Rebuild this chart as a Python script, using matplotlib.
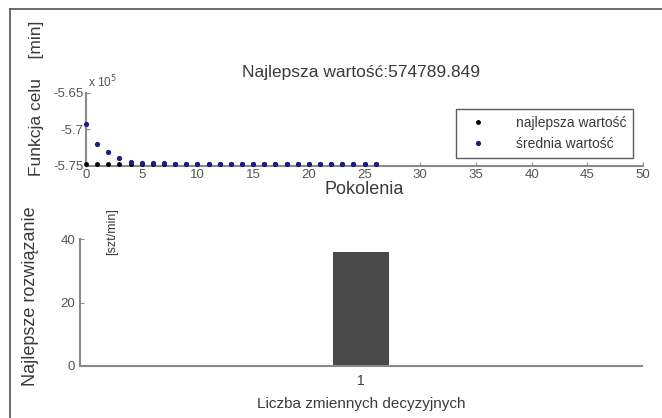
import matplotlib
matplotlib.use('Agg')
import matplotlib.pyplot as plt
from matplotlib.lines import Line2D
import numpy as np

plt.rcParams['font.family'] = ['Liberation Sans', 'DejaVu Sans']

# generation data (objective function values)
generations = list(range(27))
best_vals = [-574789.849] * 27
mean_vals = [-569250, -572000, -573100, -573900, -574450, -574650, -574650, -574650,
             -574780, -574785, -574785, -574785, -574785, -574785, -574785, -574760,
             -574785, -574785, -574785, -574770, -574785, -574785, -574785, -574785,
             -574780, -574785, -574780]

# best solution bar
bar_labels = ['1']
bar_values = [36]

txt = '#3a3a3a'
tick_txt = '#555555'
spine = '#8a8a8a'

fig = plt.figure(figsize=(6.62, 4.18), dpi=100)

# frame lines (top and left)
fig.add_artist(Line2D([10/662, 10/662], [0, 1 - 9/418], color='#555555', lw=1.2))
fig.add_artist(Line2D([10/662, 1], [1 - 9/418, 1 - 9/418], color='#555555', lw=1.2))

ax1 = fig.add_axes([86/662, 1 - 166/418, (643 - 86)/662, (166 - 93)/418])
ax1.plot(generations, np.array(best_vals) / 1e5, '.', color='black', ms=5,
         label='najlepsza wartość', clip_on=False, zorder=3)
ax1.plot(generations, np.array(mean_vals) / 1e5, '.', color='#1c1c8f', ms=5.5,
         label='średnia wartość', clip_on=False, zorder=4)
ax1.set_xlim(0, 50)
ax1.set_ylim(-5.75, -5.65)
ax1.set_xticks(range(0, 51, 5))
ax1.set_yticks([-5.75, -5.7, -5.65])
ax1.set_yticklabels(['-5.75', '-5.7', '-5.65'])
for s in ['top', 'right']:
    ax1.spines[s].set_visible(False)
for s in ['left', 'bottom']:
    ax1.spines[s].set_color(spine)
    ax1.spines[s].set_linewidth(1.5)
ax1.tick_params(direction='in', length=3, color=spine, labelsize=9.5, labelcolor=tick_txt, pad=2)
ax1.set_xlabel('Pokolenia', fontsize=13, color=txt, labelpad=0)
leg = ax1.legend(loc='upper right', bbox_to_anchor=(0.995, 0.877), fontsize=10, frameon=True,
                 fancybox=False, edgecolor='#333333', handletextpad=1.6, borderpad=0.5,
                 labelspacing=0.5, markerscale=1.0, handlelength=2.2)
leg.get_frame().set_linewidth(1.0)
for t in leg.get_texts():
    t.set_color(txt)

fig.text(88/662, 1 - 82/418, 'x 10$^5$', fontsize=8.5, color=tick_txt, va='center', ha='left')
fig.text(361/662, 1 - 72/418, 'Najlepsza wartość:574789.849', fontsize=12.5, color=txt,
         ha='center', va='center')
fig.text(37/662, 1 - 98/418, 'Funkcja celu    [min]', fontsize=12.5, color=txt, rotation=90,
         ha='center', va='center')

ax2 = fig.add_axes([80/662, 1 - 366/418, (642 - 80)/662, (366 - 239)/418])
ax2.bar([1], bar_values, width=0.2, color='#4a4a4a')
ax2.set_xlim(0, 2)
ax2.set_ylim(0, 40)
ax2.set_xticks([1])
ax2.set_xticklabels(bar_labels)
ax2.set_yticks([0, 20, 40])
for s in ['top', 'right']:
    ax2.spines[s].set_visible(False)
for s in ['left', 'bottom']:
    ax2.spines[s].set_color(spine)
    ax2.spines[s].set_linewidth(1.5)
ax2.tick_params(axis='y', direction='in', length=3, color=spine, labelsize=9.5, labelcolor=tick_txt)
ax2.tick_params(axis='x', length=0, labelsize=10, labelcolor=txt, pad=6)
ax2.set_xlabel('Liczba zmiennych decyzyjnych', fontsize=11, color=txt, labelpad=6)

fig.text(31/662, 1 - 296/418, 'Najlepsze rozwiązanie', fontsize=13, color=txt, rotation=90,
         ha='center', va='center')
fig.text(112/662, 1 - 232/418, '[szt/min]', fontsize=9, color=txt, rotation=90,
         ha='center', va='center')

fig.savefig('out.png', dpi=100)
